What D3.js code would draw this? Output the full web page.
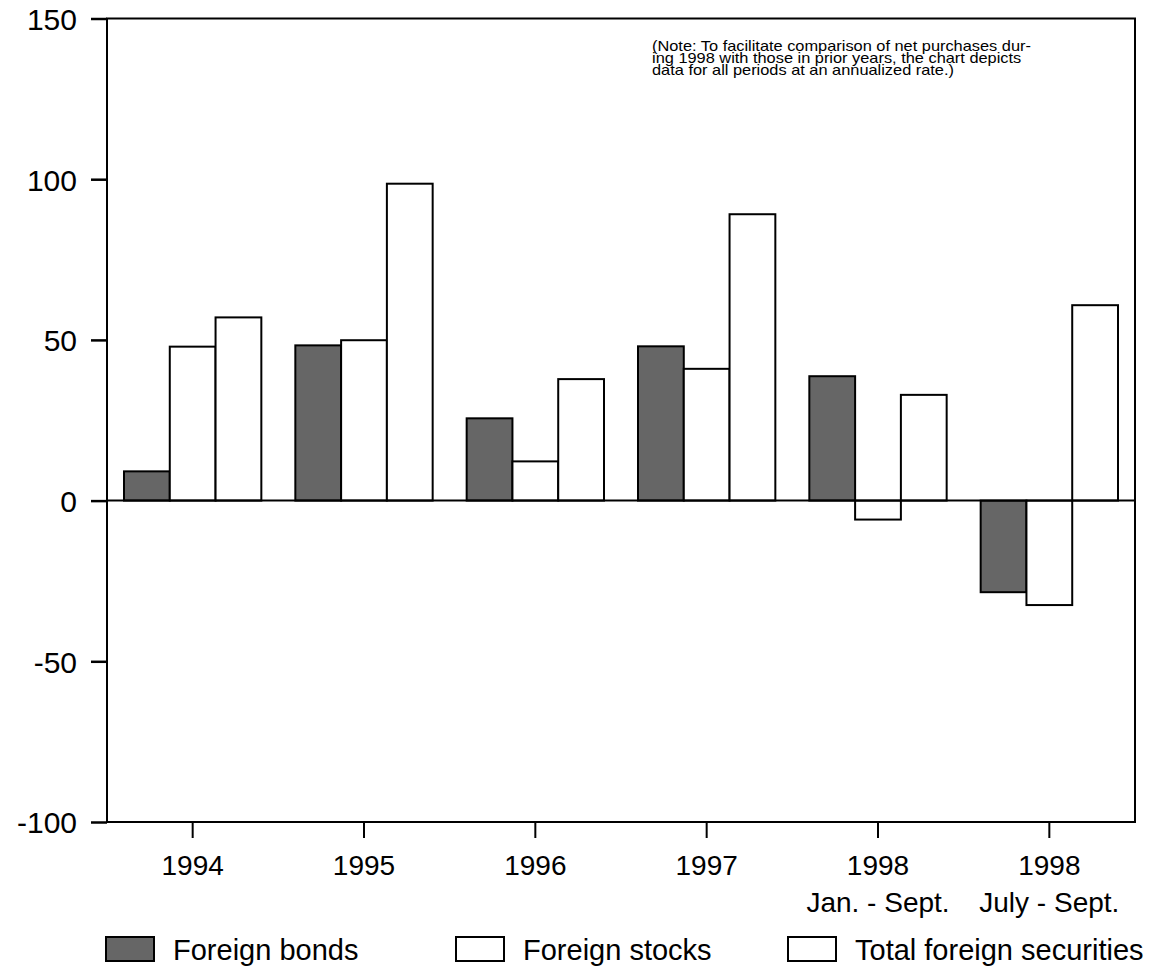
<!DOCTYPE html>
<html>
<head>
<meta charset="utf-8">
<script src="https://cdn.jsdelivr.net/npm/d3@7"></script>
<style>
  html, body { margin: 0; padding: 0; background: #fff; }
  svg { display: block; }
  text { font-family: "Liberation Sans", Arial, Helvetica, sans-serif; fill: #000; }
</style>
</head>
<body>
<svg id="chart" width="1151" height="971"></svg>
<script>
const categories = ["1994", "1995", "1996", "1997", "1998a", "1998b"];
const categoryLines = [["1994"], ["1995"], ["1996"], ["1997"], ["1998", "Jan. - Sept."], ["1998", "July - Sept."]];
const seriesNames = ["Foreign bonds", "Foreign stocks", "Total foreign securities"];
const foreignBonds = [9.1, 48.3, 25.6, 48.0, 38.7, -28.5];
const foreignStocks = [47.9, 49.9, 12.2, 41.0, -5.9, -32.5];
const totalForeign = [57.0, 98.6, 37.8, 89.1, 32.9, 60.8];
const yTicks = [150, 100, 50, 0, -50, -100];
const noteLines = [
  "(Note: To facilitate comparison of net purchases dur-",
  "ing 1998 with those in prior years, the chart depicts",
  "data for all periods at an annualized rate.)"
];
const seriesFills = ["#666666", "#ffffff", "#ffffff"];

const svg = d3.select("#chart");
const mLeft = 107, mRight = 1135, mTop = 18.5, mBottom = 822;

const x = d3.scaleBand().domain(categories).range([mLeft, mRight]).paddingInner(0).paddingOuter(0);
const inner = d3.scaleBand().domain(seriesNames).range([17, x.bandwidth() - 17]).padding(0);
const y = d3.scaleLinear().domain([-100, 150]).range([mBottom, mTop]);

const seriesData = [foreignBonds, foreignStocks, totalForeign];

// bars
seriesNames.forEach((name, si) => {
  svg.append("g").selectAll("rect")
    .data(categories.map((c, i) => ({ c, v: seriesData[si][i] })))
    .join("rect")
    .attr("x", d => x(d.c) + inner(name))
    .attr("width", inner.bandwidth())
    .attr("y", d => y(Math.max(0, d.v)))
    .attr("height", d => Math.abs(y(d.v) - y(0)))
    .attr("fill", seriesFills[si])
    .attr("stroke", "#000")
    .attr("stroke-width", 2);
});

// zero line
svg.append("line")
  .attr("x1", mLeft).attr("x2", mRight)
  .attr("y1", y(0)).attr("y2", y(0))
  .attr("stroke", "#000").attr("stroke-width", 2);

// frame
svg.append("rect")
  .attr("x", mLeft).attr("y", mTop)
  .attr("width", mRight - mLeft).attr("height", mBottom - mTop)
  .attr("fill", "none").attr("stroke", "#000").attr("stroke-width", 2);

// y axis
const yAxis = d3.axisLeft(y).tickValues(yTicks).tickSize(16).tickPadding(14).tickFormat(d => String(d));
const gy = svg.append("g").attr("transform", `translate(${mLeft},0)`).call(yAxis);
gy.select(".domain").remove();
gy.selectAll(".tick line").attr("stroke", "#000").attr("stroke-width", 2.5);
gy.selectAll(".tick text").attr("font-size", 30).attr("dy", "0.36em")
  .attr("font-family", "Liberation Sans, Arial, sans-serif").attr("fill", "#000");

// x axis
const xAxis = d3.axisBottom(x).tickSize(16).tickFormat("");
const gx = svg.append("g").attr("transform", `translate(0,${mBottom})`).call(xAxis);
gx.select(".domain").remove();
gx.selectAll(".tick line").attr("stroke", "#000").attr("stroke-width", 2);
gx.selectAll(".tick").each(function(d, i) {
  const t = d3.select(this).append("text")
    .attr("text-anchor", "middle")
    .attr("font-size", 28)
    .attr("font-family", "Liberation Sans, Arial, sans-serif")
    .attr("fill", "#000");
  categoryLines[i].forEach((ln, j) => {
    t.append("tspan").attr("x", 0).attr("y", 53 + j * 37).text(ln);
  });
});

// note
const noteG = svg.append("g").attr("transform", "translate(652,0) scale(1.17,1)");
noteLines.forEach((ln, i) => {
  noteG.append("text").attr("font-size", 14).attr("x", 0).attr("y", 51 + i * 12).text(ln);
});

// legend
const legendX = [106, 456, 788];
const lg = svg.append("g");
seriesNames.forEach((name, i) => {
  lg.append("rect").attr("x", legendX[i]).attr("y", 937).attr("width", 48).attr("height", 24)
    .attr("fill", seriesFills[i]).attr("stroke", "#000").attr("stroke-width", 2);
  lg.append("text").attr("x", legendX[i] + 67).attr("y", 960).attr("font-size", 29).text(name);
});
</script>
</body>
</html>
